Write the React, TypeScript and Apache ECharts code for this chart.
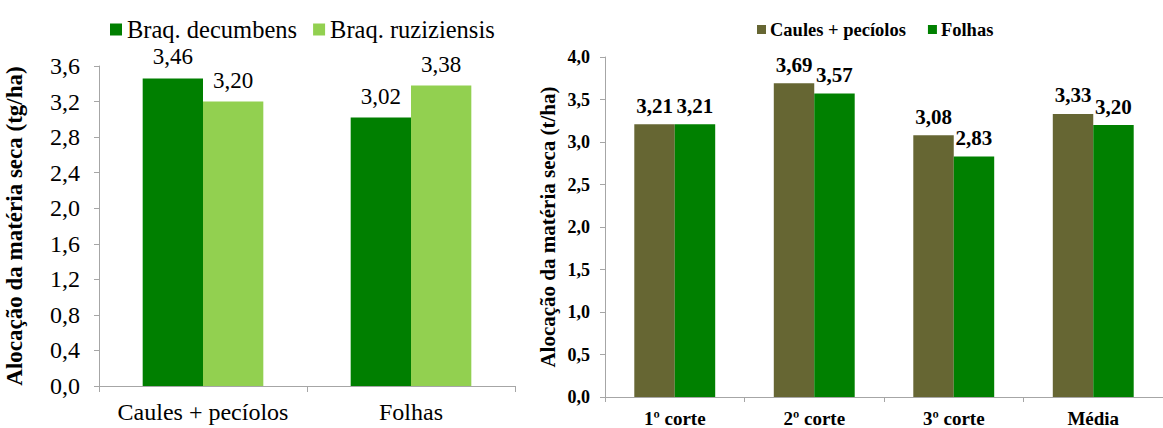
import React, { useEffect, useRef } from "react";
import * as echarts from "echarts";

const leftCategories = ["Caules + pecíolos", "Folhas"];
const leftSeriesNames = ["Braq. decumbens", "Braq. ruziziensis"];
const leftDecumbens = [3.46, 3.02];
const leftRuziziensis = [3.2, 3.38];

const rightCategories = ["1º corte", "2º corte", "3º corte", "Média"];
const rightSeriesNames = ["Caules + pecíolos", "Folhas"];
const rightCaules = [3.21, 3.69, 3.08, 3.33];
const rightFolhas = [3.21, 3.57, 2.83, 3.2];

const SERIF = "Liberation Serif";
const AXIS_GRAY = "#a6a6a6";

const fmt1 = (v: number) => v.toFixed(1).replace(".", ",");
const fmt2 = (v: number) => v.toFixed(2).replace(".", ",");

export default function App() {
  const ref = useRef<HTMLDivElement>(null);
  useEffect(() => {
    if (!ref.current) return;
    const chart = echarts.init(ref.current, undefined, { renderer: "svg" });
    const leftLabel = {
      show: true,
      position: "top" as const,
      distance: 10,
      formatter: (p: any) => fmt2(p.value),
      fontFamily: SERIF,
      fontSize: 23,
      color: "#000",
    };
    const rightLabel = {
      show: true,
      position: "top" as const,
      distance: 8,
      formatter: (p: any) => fmt2(p.value),
      fontFamily: SERIF,
      fontSize: 21,
      fontWeight: "bold" as const,
      color: "#000",
    };
    chart.setOption({
      animation: false,
      backgroundColor: "#fff",
      textStyle: { fontFamily: SERIF },
      legend: [
        {
          data: leftSeriesNames,
          left: 105,
          top: 12,
          icon: "rect",
          itemWidth: 12,
          itemHeight: 12,
          itemGap: 16,
          textStyle: { fontFamily: SERIF, fontSize: 24.5, color: "#000" },
        },
        {
          data: rightSeriesNames,
          left: 752,
          top: 15,
          icon: "rect",
          itemWidth: 9,
          itemHeight: 9,
          itemGap: 22,
          textStyle: { fontFamily: SERIF, fontSize: 18.5, fontWeight: "bold", color: "#000", padding: [0, 0, 0, -1] },
        },
      ],
      grid: [
        { left: 99, top: 66, width: 416, height: 320 },
        { left: 605, top: 57, width: 566, height: 342 },
      ],
      xAxis: [
        {
          type: "category",
          gridIndex: 0,
          data: leftCategories,
          axisLine: { lineStyle: { color: AXIS_GRAY } },
          axisTick: { show: true, length: 6, lineStyle: { color: AXIS_GRAY } },
          axisLabel: { interval: 0, fontFamily: SERIF, fontSize: 24, color: "#000", margin: 14 },
        },
        {
          type: "category",
          gridIndex: 1,
          data: rightCategories,
          axisLine: { lineStyle: { color: AXIS_GRAY } },
          axisTick: { show: true, length: 5, lineStyle: { color: AXIS_GRAY } },
          axisLabel: { interval: 0, fontFamily: SERIF, fontSize: 19, fontWeight: "bold", color: "#000", margin: 12 },
        },
      ],
      yAxis: [
        {
          type: "value",
          gridIndex: 0,
          min: 0,
          max: 3.6,
          interval: 0.4,
          name: "Alocação da matéria seca (tg/ha)",
          nameLocation: "middle",
          nameGap: 73,
          nameTextStyle: { fontFamily: SERIF, fontSize: 23, fontWeight: "bold", color: "#000" },
          axisLine: { show: true, lineStyle: { color: AXIS_GRAY } },
          axisTick: { show: true, length: 5, lineStyle: { color: AXIS_GRAY } },
          splitLine: { show: false },
          axisLabel: { fontFamily: SERIF, fontSize: 24, color: "#000", margin: 19, formatter: (v: number) => fmt1(v) },
        },
        {
          type: "value",
          gridIndex: 1,
          min: 0,
          max: 4,
          interval: 0.5,
          name: "Alocação da matéria seca (t/ha)",
          nameLocation: "middle",
          nameGap: 47,
          nameTextStyle: { fontFamily: SERIF, fontSize: 21, fontWeight: "bold", color: "#000" },
          axisLine: { show: true, lineStyle: { color: AXIS_GRAY } },
          axisTick: { show: true, length: 5, lineStyle: { color: AXIS_GRAY } },
          splitLine: { show: false },
          axisLabel: { fontFamily: SERIF, fontSize: 18, fontWeight: "bold", color: "#000", margin: 15, formatter: (v: number) => fmt1(v) },
        },
      ],
      series: [
        {
          name: leftSeriesNames[0],
          type: "bar",
          xAxisIndex: 0,
          yAxisIndex: 0,
          data: leftDecumbens,
          barGap: "0%",
          barCategoryGap: "42%",
          itemStyle: { color: "#007f00" },
          label: leftLabel,
        },
        {
          name: leftSeriesNames[1],
          type: "bar",
          xAxisIndex: 0,
          yAxisIndex: 0,
          data: leftRuziziensis,
          barGap: "0%",
          barCategoryGap: "42%",
          itemStyle: { color: "#92d050" },
          label: leftLabel,
        },
        {
          name: rightSeriesNames[0],
          type: "bar",
          xAxisIndex: 1,
          yAxisIndex: 1,
          data: rightCaules,
          barGap: "0%",
          barCategoryGap: "42%",
          itemStyle: { color: "#666633" },
          label: rightLabel,
        },
        {
          name: rightSeriesNames[1],
          type: "bar",
          xAxisIndex: 1,
          yAxisIndex: 1,
          data: rightFolhas,
          barGap: "0%",
          barCategoryGap: "42%",
          itemStyle: { color: "#008000" },
          label: rightLabel,
        },
      ],
    });
    return () => chart.dispose();
  }, []);
  return (
    <div
      ref={ref}
      style={{ position: "absolute", left: 0, top: 0, width: 1163, height: 428, background: "#fff" }}
    />
  );
}
